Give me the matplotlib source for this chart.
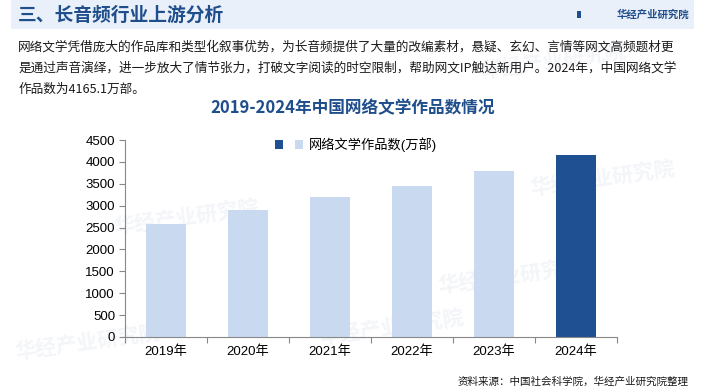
import matplotlib.pyplot as plt
from matplotlib.patches import Rectangle
from matplotlib.legend_handler import HandlerTuple

plt.rcParams['font.family'] = ['Liberation Sans', 'Noto Sans CJK SC', 'DejaVu Sans']

years = ['2019年', '2020年', '2021年', '2022年', '2023年', '2024年']
works = [2590.1, 2905.9, 3204.0, 3458.8, 3786.3, 4165.1]
yticks = [0, 500, 1000, 1500, 2000, 2500, 3000, 3500, 4000, 4500]

light = '#C9DAF0'
dark = '#1F5091'
title_blue = '#1F4E8C'

fig = plt.figure(figsize=(7.05, 3.9), dpi=100)

# header band
fig.patches.append(Rectangle((0.015, 0.925), 0.97, 0.075, transform=fig.transFigure,
                             facecolor='#EAF0F9', edgecolor='none', zorder=-2))
fig.text(0.026, 0.962, '三、长音频行业上游分析', fontsize=13.5, fontweight='bold',
         color=title_blue, va='center', family=['Noto Sans CJK SC'])
fig.text(0.978, 0.962, '华经产业研究院', fontsize=7.5, fontweight='bold',
         color=title_blue, va='center', ha='right', family=['Noto Sans CJK SC'])
fig.patches.append(Rectangle((0.818, 0.953), 0.006, 0.02, transform=fig.transFigure,
                             facecolor=title_blue, edgecolor='none'))

para = ['网络文学凭借庞大的作品库和类型化叙事优势，为长音频提供了大量的改编素材，悬疑、玄幻、言情等网文高频题材更',
        '是通过声音演绎，进一步放大了情节张力，打破文字阅读的时空限制，帮助网文IP触达新用户。2024年，中国网络文学',
        '作品数为4165.1万部。']
for i, line in enumerate(para):
    fig.text(0.026, 0.88 - i * 0.054, line, fontsize=9.1, color='#1a1a1a', va='center',
             family=['Noto Sans CJK SC', 'DejaVu Sans'])

# faint watermarks
for (wx, wy) in [(0.16, 0.40), (0.68, 0.80), (0.45, 0.12), (0.62, 0.25), (0.75, 0.50), (0.02, 0.08)]:
    fig.text(wx, wy, '华经产业研究院', fontsize=15, fontweight='bold', color='#F3F5F9',
             rotation=8, family=['Noto Sans CJK SC'], zorder=-1)

fig.text(0.5, 0.722, '2019-2024年中国网络文学作品数情况', fontsize=12, fontweight='bold',
         color=title_blue, ha='center', va='center', family=['Noto Sans CJK SC'])

ax = fig.add_axes([0.177, 0.136, 0.698, 0.505])
ax.patch.set_alpha(0)
colors = [light] * (len(years) - 1) + [dark]
x = list(range(len(years)))
ax.bar(x, works, width=0.49, color=colors, zorder=2)

ax.set_xlim(-0.5, len(years) - 0.5)
ax.set_ylim(0, 4500)
ax.set_yticks(yticks)
ax.set_xticks([i - 0.5 for i in range(len(years) + 1)])
ax.set_xticklabels([])
ax.set_xticks(x, minor=True)
ax.set_xticklabels(years, minor=True)
ax.tick_params(axis='x', which='minor', length=0, pad=6, labelsize=9.5)
ax.tick_params(axis='x', which='major', length=4, color='#888888')
ax.tick_params(axis='y', length=4, color='#888888', labelsize=9.5, pad=3)
for s in ['top', 'right']:
    ax.spines[s].set_visible(False)
for s in ['left', 'bottom']:
    ax.spines[s].set_color('#888888')

h1 = Rectangle((0, 0), 1, 1, facecolor=dark)
h2 = Rectangle((0, 0), 1, 1, facecolor=light)
ax.legend([(h1, h2)], ['网络文学作品数(万部)'], handler_map={tuple: HandlerTuple(ndivide=None, pad=0.9)},
          loc='upper center', bbox_to_anchor=(0.47, 1.075), frameon=False, fontsize=9.5,
          handlelength=2.1, handleheight=0.7, handletextpad=0.5)

fig.text(0.976, 0.022, '资料来源：中国社会科学院，华经产业研究院整理', fontsize=7.6, color='#1a1a1a',
         ha='right', va='center', family=['Noto Sans CJK SC'])

plt.savefig('out.png', dpi=100)
